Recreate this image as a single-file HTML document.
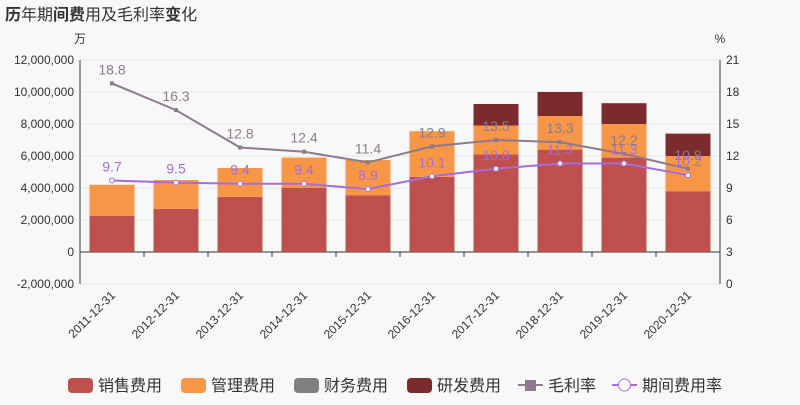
<!DOCTYPE html>
<html><head><meta charset="utf-8"><style>
body{margin:0;background:#f8f8f8;font-family:"Liberation Sans","Noto Sans CJK SC",sans-serif;}
svg text{font-family:"Liberation Sans","Noto Sans CJK SC",sans-serif;}
</style></head><body>
<svg id="c" width="800" height="400" xmlns="http://www.w3.org/2000/svg">
<rect width="800" height="400" fill="#f8f8f8"/>
<text x="5" y="20" font-size="16" fill="#333"><tspan font-weight="bold">历</tspan>年期<tspan font-weight="bold">间费</tspan>用及毛利率<tspan font-weight="bold">变</tspan>化</text>
<text x="80" y="43" font-size="12" fill="#333" text-anchor="middle">万</text>
<text x="720" y="43" font-size="12" fill="#333" text-anchor="middle">%</text>
<g id="g"></g>
</svg>
<script>
const categories=["2011-12-31","2012-12-31","2013-12-31","2014-12-31","2015-12-31","2016-12-31","2017-12-31","2018-12-31","2019-12-31","2020-12-31"];
const sales=[2250000,2700000,3450000,4000000,3550000,4700000,6100000,6400000,5900000,3800000];
const mgmt=[1950000,1800000,1800000,1900000,2200000,2850000,1800000,2100000,2100000,2200000];
const finance=[0,0,0,0,0,0,0,0,0,0];
const rd=[0,0,0,0,0,0,1350000,1500000,1300000,1400000];
const margin=[18.8,16.3,12.8,12.4,11.4,12.9,13.5,13.3,12.2,10.8];
const expRate=[9.7,9.5,9.4,9.4,8.9,10.1,10.8,11.3,11.3,10.2];
const leftTicks=[-2000000,0,2000000,4000000,6000000,8000000,10000000,12000000];
const rightTicks=[0,3,6,9,12,15,18,21];
const NS="http://www.w3.org/2000/svg",g=document.getElementById('g');
const L=80,R=720,T=60,B=284;
const yL=v=>B-(v+2000000)/14000000*(B-T);
const yR=v=>B-v/21*(B-T);
const band=(R-L)/categories.length;
const xC=i=>L+band*(i+0.5);
function el(t,a,p){const e=document.createElementNS(NS,t);for(const k in a)e.setAttribute(k,a[k]);(p||g).appendChild(e);return e;}
leftTicks.forEach(v=>{
 const ln=el('line',{x1:L,x2:R,y1:yL(v),y2:yL(v),stroke:v===0?'#333':'#e6e6e6'});
 
 
 const t=el('text',{x:L-6,y:yL(v)+4,'font-size':12,fill:'#333','text-anchor':'end'});t.textContent=v.toLocaleString('en-US');
 
 
});
rightTicks.forEach(v=>{
 const t=el('text',{x:R+6,y:yR(v)+4,'font-size':12,fill:'#333'});t.textContent=v;
 
 
});
el('line',{x1:L,x2:L,y1:T,y2:B,stroke:'#333'});
el('line',{x1:R,x2:R,y1:T,y2:B,stroke:'#333'});
const bw=45;
categories.forEach((c,i)=>{
 let base=0;
 [[sales,'#c0504d','bar-sales'],[mgmt,'#f79646','bar-mgmt'],[finance,'#7f7f7f','bar-finance'],[rd,'#7b2b2b','bar-rd']].forEach(([arr,col,nm])=>{
  const v=arr[i];if(v<=0)return;
  const r=el('rect',{x:xC(i)-bw/2,y:yL(base+v),width:bw,height:yL(base)-yL(base+v),fill:col});
  
  
  base+=v;
 });
 const tk=el('line',{x1:L+band*i,x2:L+band*i,y1:yL(0),y2:yL(0)+5,stroke:'#333'});
 const t=el('text',{x:xC(i)+4,y:296,'font-size':12,fill:'#333','text-anchor':'end',transform:`rotate(-45 ${xC(i)+4} 296)`});
 t.textContent=c;
 
 
});
function line(arr,col,nm,sq){
 const p=el('polyline',{points:arr.map((v,i)=>xC(i)+','+yR(v)).join(' '),fill:'none',stroke:col,'stroke-width':2});
 
 
 arr.forEach((v,i)=>{
  const m=sq?el('rect',{x:xC(i)-2,y:yR(v)-2,width:4,height:4,fill:col}):el('circle',{cx:xC(i),cy:yR(v),r:2.5,fill:'#fff',stroke:col});
  
  
  const t=el('text',{x:xC(i),y:yR(v)-9,'font-size':14,fill:col,'text-anchor':'middle'});t.textContent=v.toFixed(1);
  
  
 });
}
line(margin,'#8c7b8c','gross-margin',true);
line(expRate,'#a66be0','expense-rate',false);
const leg=[['销售费用','#c0504d',68,'r'],['管理费用','#f79646',181,'r'],['财务费用','#7f7f7f',294,'r'],['研发费用','#7b2b2b',407,'r'],['毛利率','#8c7b8c',518,'s'],['期间费用率','#a66be0',612,'c']];
leg.forEach(([n,col,x,k])=>{
 const gg=el('g',{});
 
 
 if(k==='r')el('rect',{x:x,y:378,width:25,height:15,rx:4,fill:col},gg);
 else{el('line',{x1:x,x2:x+25,y1:385,y2:385,stroke:col,'stroke-width':2},gg);
  if(k==='s')el('rect',{x:x+7,y:380,width:11,height:11,fill:col},gg);
  else el('circle',{cx:x+12.5,cy:385,r:6,fill:'#fff',stroke:col},gg);}
 const t=el('text',{x:x+30,y:391,'font-size':16,fill:'#333'},gg);t.textContent=n;
});
</script>
</body></html>
